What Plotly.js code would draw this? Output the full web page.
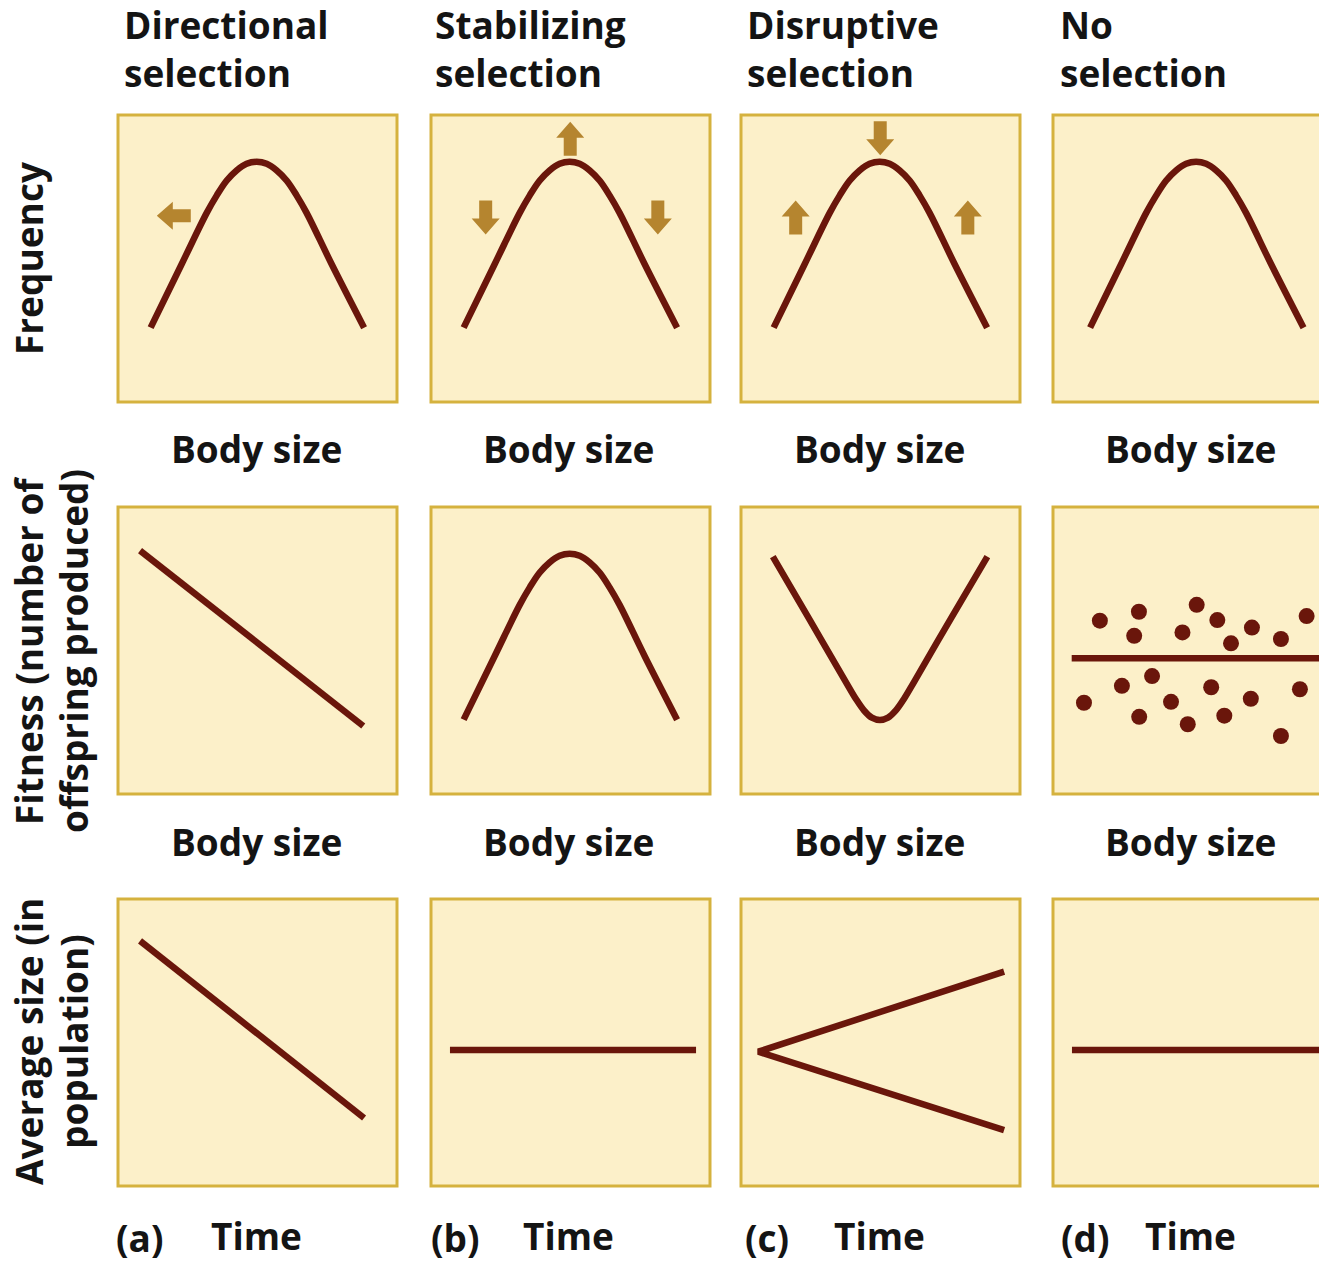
<!DOCTYPE html>
<html><head><meta charset="utf-8">
<script src="https://cdn.plot.ly/plotly-3.0.1.min.js"></script>
<style>html,body{margin:0;padding:0;background:#fff;overflow:hidden}#chart{width:1319px;height:1263px}</style>
</head><body><div id="chart"></div>
<script>
// ---------------- DATA ----------------
const columnTitles = ["Directional<br>selection", "Stabilizing<br>selection", "Disruptive<br>selection", "No<br>selection"];
const panelLetters = ["(a)", "(b)", "(c)", "(d)"];
const rowLabelLine1 = ["Frequency", "Fitness (number of", "Average size (in"];
const rowLabelLine2 = ["", "offspring produced)", "population)"];
const rowXLabels = ["Body size", "Body size", "Time"];

// Row 1: frequency distribution (bell), same in every column
const bellX = [0.117, 0.228, 0.318, 0.354, 0.389, 0.425, 0.461, 0.497, 0.533, 0.569, 0.605, 0.640, 0.676, 0.766, 0.882];
const bellY = [0.259, 0.480, 0.659, 0.720, 0.771, 0.807, 0.830, 0.837, 0.830, 0.807, 0.771, 0.720, 0.659, 0.480, 0.259];

// Row 2: fitness vs body size
const fitDirX = [0.079, 0.879];
const fitDirY = [0.848, 0.237];
const fitStabX = bellX;
const fitStabY = bellY;
const fitDisX = [0.114, 0.247, 0.376, 0.412, 0.441, 0.469, 0.498, 0.527, 0.555, 0.584, 0.620, 0.749, 0.883];
const fitDisY = [0.827, 0.606, 0.390, 0.331, 0.291, 0.266, 0.258, 0.266, 0.291, 0.331, 0.390, 0.606, 0.827];
const fitNoneX = [0.067, 1.0];
const fitNoneY = [0.473, 0.473];
const dotsX = [0.168, 0.308, 0.291, 0.515, 0.464, 0.589, 0.638, 0.713, 0.817, 0.909,
               0.111, 0.247, 0.355, 0.309, 0.423, 0.483, 0.567, 0.614, 0.709, 0.817, 0.885];
const dotsY = [0.604, 0.635, 0.551, 0.659, 0.563, 0.606, 0.525, 0.580, 0.540, 0.620,
               0.318, 0.377, 0.411, 0.269, 0.321, 0.243, 0.372, 0.273, 0.332, 0.202, 0.365];

// Row 3: average size over time
const avgDirX = [0.079, 0.882];
const avgDirY = [0.854, 0.237];
const avgStabX = [0.068, 0.950];
const avgStabY = [0.474, 0.474];
const avgDisX = [0.943, 0.062, 0.943];
const avgDisY = [0.747, 0.468, 0.195];
const avgNoneX = [0.068, 1.0];
const avgNoneY = [0.474, 0.474];

// Selection arrows (row 1)
const arrowCol = [0, 1, 1, 1, 2, 2, 2];
const arrowX = [0.200, 0.499, 0.196, 0.813, 0.499, 0.196, 0.813];
const arrowY = [0.649, 0.917, 0.643, 0.643, 0.919, 0.643, 0.643];
const arrowDir = ["left", "up", "down", "down", "down", "up", "up"];

// ---------------- STYLE / GEOMETRY ----------------
const W = 1319, H = 1263;
const colLeft = [118, 431, 741, 1053];
const rowTop = [115, 507, 899];
const PW = 279, PH = 287;
const FILL = "#FCF0C9", BORDER = "#D5B23E", CURVE = "#6A160B", ARROW = "#B5852F", TEXT = "#141414";
const FONT = "Open Sans, Noto Sans, sans-serif";
const FS = 37;

const layout = {
  width: W, height: H, margin: {l: 0, r: 0, t: 0, b: 0},
  paper_bgcolor: "#ffffff", plot_bgcolor: FILL, showlegend: false,
  shapes: [], annotations: []
};
const traces = [];

function key(r, c) { return r * 4 + c + 1; }
function axName(k) { return k === 1 ? "" : String(k); }

for (let r = 0; r < 3; r++) {
  for (let c = 0; c < 4; c++) {
    const k = key(r, c), a = axName(k);
    const L = colLeft[c], T = rowTop[r];
    const right = Math.min(L + PW, W);
    const visFrac = (right - L) / PW;
    const xOff = (r === 0 && c === 3) ? -0.016 : 0;
    const common = {showgrid: false, zeroline: false, showticklabels: false, ticks: "", showline: false, fixedrange: true};
    layout["xaxis" + a] = Object.assign({}, common, {domain: [L / W, right / W], range: [xOff, visFrac + xOff], anchor: "y" + a});
    layout["yaxis" + a] = Object.assign({}, common, {domain: [1 - (T + PH) / H, 1 - T / H], range: [0, 1], anchor: "x" + a});
    layout.shapes.push({
      type: "rect", xref: "x" + a + " domain", yref: "y" + a + " domain",
      x0: 0, x1: PW / (right - L), y0: 0, y1: 1,
      line: {color: BORDER, width: 3}, fillcolor: "rgba(0,0,0,0)", layer: "above"
    });
  }
}

function addLine(r, c, xs, ys, spline) {
  const a = axName(key(r, c));
  traces.push({
    type: "scatter", mode: "lines", x: xs, y: ys, xaxis: "x" + a, yaxis: "y" + a,
    line: {color: CURVE, width: 6.5, shape: spline ? "spline" : "linear", smoothing: 1},
    hoverinfo: "skip"
  });
}

for (let c = 0; c < 4; c++) addLine(0, c, bellX, bellY, true);
addLine(1, 0, fitDirX, fitDirY, false);
addLine(1, 1, fitStabX, fitStabY, true);
addLine(1, 2, fitDisX, fitDisY, true);
addLine(1, 3, fitNoneX, fitNoneY, false);
traces.push({
  type: "scatter", mode: "markers", x: dotsX, y: dotsY,
  xaxis: "x" + axName(key(1, 3)), yaxis: "y" + axName(key(1, 3)),
  marker: {color: CURVE, size: 16, line: {width: 0}}, hoverinfo: "skip"
});
addLine(2, 0, avgDirX, avgDirY, false);
addLine(2, 1, avgStabX, avgStabY, false);
addLine(2, 2, avgDisX, avgDisY, false);
addLine(2, 3, avgNoneX, avgNoneY, false);

// arrows as path shapes
const ARR_LEN = 34, HEAD_LEN = 16, HEAD_W = 28, SHAFT_W = 13;
const dirVec = {left: [-1, 0], right: [1, 0], up: [0, 1], down: [0, -1]};
for (let i = 0; i < arrowX.length; i++) {
  const a = axName(key(0, arrowCol[i]));
  const d = dirVec[arrowDir[i]], n = [-d[1], d[0]];
  const pts = [
    [-ARR_LEN / 2, SHAFT_W / 2], [ARR_LEN / 2 - HEAD_LEN, SHAFT_W / 2], [ARR_LEN / 2 - HEAD_LEN, HEAD_W / 2],
    [ARR_LEN / 2, 0],
    [ARR_LEN / 2 - HEAD_LEN, -HEAD_W / 2], [ARR_LEN / 2 - HEAD_LEN, -SHAFT_W / 2], [-ARR_LEN / 2, -SHAFT_W / 2]
  ];
  const path = pts.map((p, j) => {
    const ox = d[0] * p[0] + n[0] * p[1], oy = d[1] * p[0] + n[1] * p[1];
    return (j === 0 ? "M" : "L") + (arrowX[i] + ox / PW).toFixed(4) + "," + (arrowY[i] + oy / PH).toFixed(4);
  }).join(" ") + " Z";
  layout.shapes.push({type: "path", xref: "x" + a, yref: "y" + a, path: path,
    fillcolor: ARROW, line: {color: ARROW, width: 0}, layer: "above"});
}

// text
function txt(text, px, py, opts) {
  layout.annotations.push(Object.assign({
    text: text, xref: "paper", yref: "paper", x: px / W, y: 1 - py / H,
    showarrow: false, xanchor: "center", yanchor: "middle",
    font: {family: FONT, size: FS, color: TEXT, weight: 700}
  }, opts || {}));
}
const titleX = [122, 433, 745, 1058];
for (let c = 0; c < 4; c++) {
  txt(columnTitles[c], titleX[c], -3, {xanchor: "left", yanchor: "top", align: "left"});
}
const xLabelRowY = [449, 841, 1235];
const xLabelCX = [256, 568, 879, 1190];
for (let r = 0; r < 3; r++) for (let c = 0; c < 4; c++) txt(rowXLabels[r], xLabelCX[c], xLabelRowY[r]);
const letterCX = [139, 455, 767, 1085];
for (let c = 0; c < 4; c++) txt(panelLetters[c], letterCX[c], 1237);
const rowCY = [258, 651, 1042];
for (let r = 0; r < 3; r++) {
  txt(rowLabelLine1[r], 28, rowCY[r], {textangle: -90});
  if (rowLabelLine2[r]) txt(rowLabelLine2[r], 73, rowCY[r], {textangle: -90});
}

Plotly.newPlot("chart", traces, layout, {staticPlot: true, displayModeBar: false});
</script></body></html>
